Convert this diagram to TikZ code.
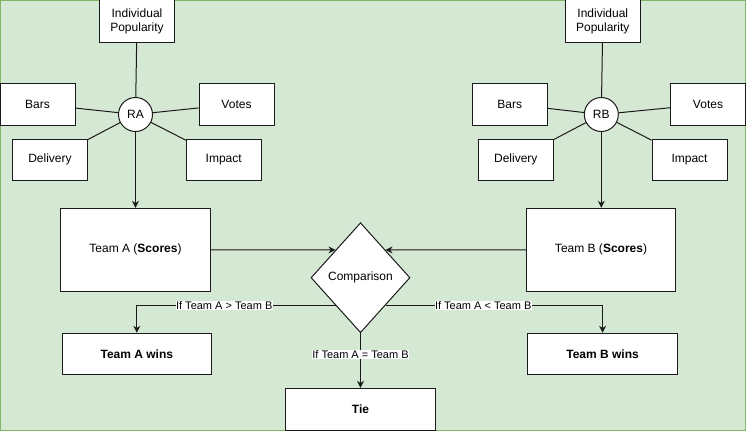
\documentclass[tikz,border=0pt]{standalone}
\usepackage{fontspec}
\setmainfont{Liberation Sans}
\usetikzlibrary{arrows.meta, shapes.geometric}
\definecolor{canvasColor}{HTML}{D5E8D4}
\definecolor{frameColor}{HTML}{82B366}
\definecolor{lineColor}{HTML}{1A1A1A}

\begin{document}
\begin{tikzpicture}[x=1pt, y=-1pt, line width=1pt,
	factor/.style={draw=lineColor, fill=white, inner sep=0pt, minimum width=75pt, minimum height=42pt, align=center, font=\fontsize{12}{14}\selectfont},
	hub/.style={draw=lineColor, fill=white, circle, inner sep=0pt, minimum size=34pt, font=\fontsize{12}{14}\selectfont},
	scorebox/.style={factor, minimum width=150pt, minimum height=83pt},
	resultbox/.style={factor, minimum width=149.5pt, minimum height=41.5pt, font=\fontsize{12}{14}\selectfont\bfseries},
	decision/.style={draw=lineColor, fill=white, diamond, inner sep=0pt, minimum width=99pt, minimum height=110pt, font=\fontsize{12}{14}\selectfont},
	arrow/.style={draw=lineColor, -{Stealth[length=7pt, width=7pt]}},
	edgelabel/.style={fill=white, inner sep=0.5pt, font=\fontsize{11}{13}\selectfont}]
		
		% --- 1. Canvas ---
		\useasboundingbox (0,0) rectangle (747,432);
		\draw[frameColor, fill=canvasColor] (0.5,0.5) rectangle (745.5,430.5);
		
		% --- 2. Team A factors ---
		\node[factor, minimum height=43pt] (ipA) at (137,21) {Individual\\Popularity};
		\node[hub] (ra) at (135.5,114.5) {RA};
		\node[factor] (barsA) at (37.5,104) {Bars};
		\node[factor] (votesA) at (236.5,104) {Votes};
		\node[factor, minimum height=41pt] (deliveryA) at (50,159.5) {Delivery};
		\node[factor, minimum height=41pt] (impactA) at (223.7,159.5) {Impact};
		
		% --- 3. Team B factors ---
		\node[factor, minimum height=43pt] (ipB) at (602.8,21) {Individual\\Popularity};
		\node[hub] (rb) at (601.3,114.5) {RB};
		\node[factor] (barsB) at (509.7,104) {Bars};
		\node[factor] (votesB) at (708,104) {Votes};
		\node[factor, minimum height=41pt] (deliveryB) at (515.8,159.5) {Delivery};
		\node[factor, minimum height=41pt] (impactB) at (689.5,159.5) {Impact};
		
		% Spokes into the hubs
		\foreach \f in {ipA, barsA, votesA, deliveryA, impactA} {
			\draw[lineColor] (\f) -- (ra);
		}
		\foreach \f in {ipB, barsB, votesB, deliveryB, impactB} {
			\draw[lineColor] (\f) -- (rb);
		}
		
		% --- 4. Scores and comparison ---
		\node[scorebox] (teamA) at (135.5,249.8) {Team A (\textbf{Scores})};
		\node[scorebox, minimum width=149.5pt] (teamB) at (601,249.8) {Team B (\textbf{Scores})};
		\node[decision] (cmp) at (360.5,277.7) {Comparison};
		
		\draw[arrow] (ra) -- (teamA);
		\draw[arrow] (rb) -- (rb |- teamB.north);
		\draw[arrow] (teamA.east) -- (cmp.north west);
		\draw[arrow] (teamB.west) -- (cmp.north east);
		
		% --- 5. Outcomes ---
		\node[resultbox] (winA) at (136.8,354) {Team A wins};
		\node[resultbox] (winB) at (602.6,354) {Team B wins};
		\node[resultbox, minimum height=42pt] (tie) at (360.5,409.3) {Tie};
		
		\draw[arrow] (cmp.south west) -| node[edgelabel, pos=0.28] {If Team A > Team B} (winA);
		\draw[arrow] (cmp.south east) -| node[edgelabel, pos=0.225] {If Team A < Team B} (winB);
		\draw[arrow] (cmp.south) -- node[edgelabel, pos=0.39] {If Team A = Team B} (tie.north);
		
	\end{tikzpicture}
\end{document}
